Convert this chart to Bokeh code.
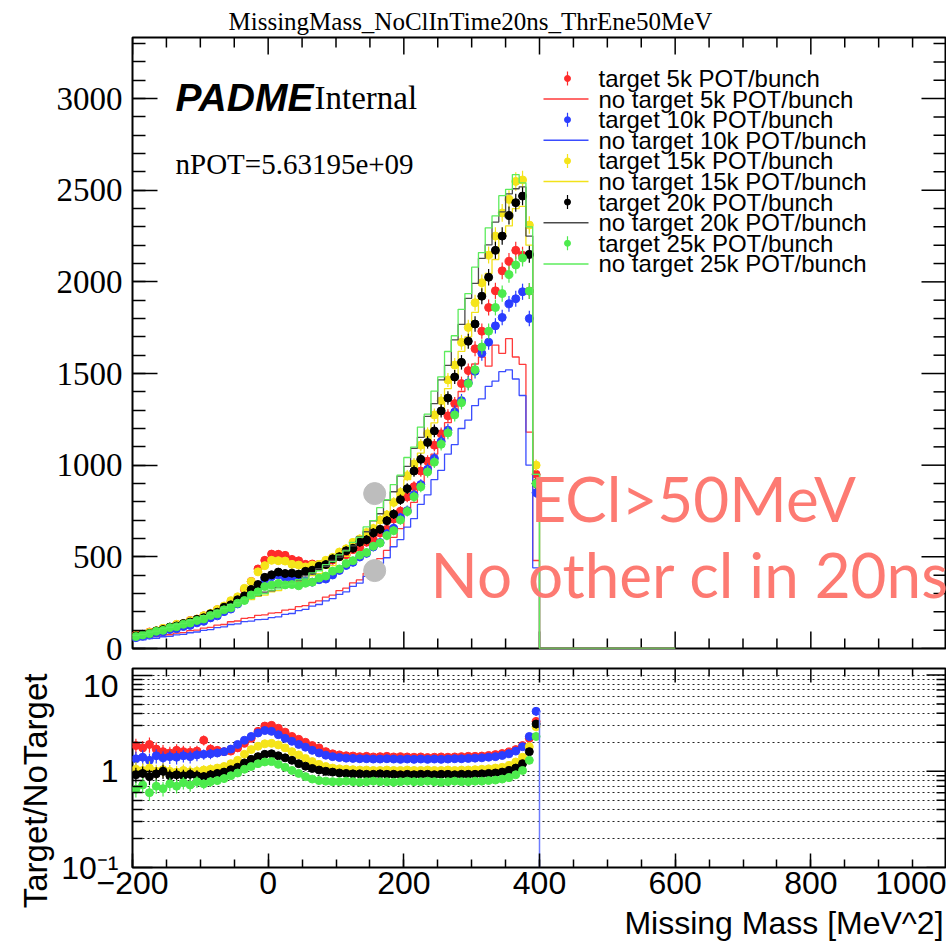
import numpy as np
from bokeh.plotting import figure
from bokeh.layouts import column
from bokeh.models import (Range1d, Label, SingleIntervalTicker, FixedTicker, CustomJSTickFormatter)
from bokeh.embed import file_html
from bokeh.resources import INLINE

# ---------------- data ----------------
bin_left = list(range(-200, 400, 10))   # 60 bins of 10 MeV^2
bin_width = 10
tail_end = 600                          # no-target histograms drawn at 0 up to here

# target (points) -- counts per bin
tgt_5k = [74, 77, 90, 96, 109, 115, 131, 135, 153, 160,
          178, 190, 212, 225, 252, 272, 322, 366, 434, 481,
          515, 514, 508, 486, 478, 459, 461, 459, 473, 482,
          502, 511, 539, 551, 580, 594, 630, 650, 706, 749,
          827, 883, 968, 1022, 1109, 1171, 1269, 1336, 1445, 1516,
          1635, 1731, 1860, 1951, 2060, 2112, 2172, 2145, 1950, 950]
tgt_10k = [59, 67, 73, 86, 91, 103, 108, 120, 126, 140,
           148, 167, 178, 201, 215, 243, 265, 303, 335, 378,
           392, 401, 389, 385, 369, 368, 362, 375, 379, 401,
           426, 453, 470, 499, 519, 554, 578, 626, 656, 714,
           752, 838, 894, 978, 1037, 1129, 1191, 1290, 1352, 1449,
           1512, 1610, 1671, 1760, 1806, 1880, 1908, 1946, 1800, 850]
tgt_15k = [71, 77, 88, 97, 110, 116, 132, 137, 152, 161,
           179, 192, 213, 232, 261, 282, 328, 365, 418, 452,
           481, 479, 477, 459, 455, 445, 455, 459, 481, 497,
           526, 544, 579, 598, 633, 655, 701, 729, 797, 851,
           943, 1007, 1109, 1172, 1274, 1351, 1465, 1546, 1670, 1751,
           1886, 1995, 2146, 2250, 2376, 2450, 2548, 2556, 2310, 1000]
tgt_20k = [68, 77, 82, 96, 103, 117, 123, 136, 144, 159,
           168, 189, 198, 225, 238, 266, 287, 322, 349, 388,
           402, 417, 409, 411, 406, 421, 427, 449, 458, 489,
           501, 533, 547, 580, 593, 631, 650, 697, 733, 812,
           872, 968, 1032, 1124, 1187, 1296, 1366, 1481, 1561, 1676,
           1770, 1922, 2025, 2172, 2250, 2362, 2432, 2468, 2150, 900]
tgt_25k = [65, 74, 81, 94, 99, 114, 119, 132, 139, 153,
           161, 180, 189, 211, 222, 247, 262, 292, 309, 338,
           346, 355, 347, 349, 342, 356, 362, 384, 395, 422,
           434, 464, 479, 509, 524, 558, 575, 616, 643, 701,
           748, 828, 882, 963, 1016, 1114, 1176, 1274, 1341, 1445,
           1521, 1645, 1731, 1860, 1936, 2040, 2092, 2130, 1950, 900]

# no target (histogram lines)
nt_5k = [56, 57, 64, 65, 73, 75, 84, 87, 97, 100,
         111, 115, 127, 131, 146, 150, 164, 168, 181, 183,
         193, 196, 209, 213, 228, 234, 251, 260, 280, 291,
         316, 329, 358, 374, 410, 436, 490, 535, 606, 654,
         738, 797, 893, 957, 1060, 1125, 1232, 1294, 1402, 1458,
         1552, 1590, 1540, 1655, 1610, 1690, 1590, 1550, 1180, 480]
nt_10k = [45, 47, 54, 56, 64, 66, 74, 77, 86, 90,
          99, 103, 114, 118, 131, 134, 147, 149, 158, 159,
          168, 172, 186, 191, 207, 213, 231, 240, 260, 272,
          295, 309, 339, 357, 393, 416, 464, 495, 555, 594,
          662, 708, 786, 838, 921, 972, 1060, 1112, 1200, 1246,
          1325, 1362, 1430, 1458, 1510, 1520, 1470, 1380, 1000, 440]
nt_15k = [69, 74, 86, 93, 106, 114, 128, 135, 150, 158,
          174, 184, 203, 213, 234, 242, 261, 267, 285, 291,
          309, 316, 335, 343, 363, 373, 397, 408, 437, 452,
          484, 503, 542, 565, 612, 640, 697, 731, 800, 842,
          921, 974, 1066, 1125, 1231, 1299, 1418, 1493, 1621, 1700,
          1834, 1914, 2046, 2122, 2244, 2305, 2400, 2412, 2200, 950]
nt_20k = [71, 81, 86, 100, 106, 123, 128, 144, 150, 168,
          176, 196, 205, 228, 237, 258, 265, 283, 289, 308,
          315, 335, 343, 364, 371, 396, 406, 435, 448, 481,
          498, 538, 560, 609, 637, 697, 735, 809, 855, 940,
          993, 1092, 1152, 1266, 1336, 1465, 1544, 1684, 1768, 1910,
          1992, 2128, 2202, 2326, 2382, 2480, 2508, 2518, 2250, 950]
nt_25k = [72, 76, 89, 95, 109, 116, 131, 137, 154, 160,
          179, 187, 209, 219, 241, 250, 269, 275, 294, 299,
          318, 325, 346, 352, 375, 384, 412, 424, 457, 474,
          511, 533, 579, 606, 663, 698, 768, 812, 894, 946,
          1042, 1099, 1208, 1278, 1404, 1482, 1620, 1706, 1850, 1936,
          2080, 2160, 2295, 2360, 2470, 2505, 2585, 2540, 2300, 950]

# ratio target / no target
ratio_5k = [1.85, 1.75, 1.9, 1.7, 1.6, 1.55, 1.65, 1.6, 1.58, 1.62,
            2.1, 1.7, 1.65, 1.6, 1.62, 1.75, 1.95, 2.2, 2.6, 2.95,
            3.0, 2.8, 2.55, 2.3, 2.15, 2.0, 1.85, 1.75, 1.6, 1.52,
            1.48, 1.45, 1.44, 1.42, 1.43, 1.41, 1.42, 1.43, 1.41, 1.42,
            1.41, 1.40, 1.41, 1.39, 1.40, 1.41, 1.40, 1.41, 1.42, 1.43,
            1.43, 1.44, 1.46, 1.49, 1.53, 1.59, 1.68, 1.85, 2.2, 3.3]
ratio_10k = [1.35, 1.4, 1.3, 1.45, 1.38, 1.42, 1.4, 1.45, 1.42, 1.48,
             1.5, 1.52, 1.55, 1.6, 1.7, 1.9, 2.1, 2.3, 2.5, 2.65,
             2.6, 2.4, 2.2, 2.05, 1.9, 1.78, 1.65, 1.55, 1.47, 1.42,
             1.39, 1.37, 1.36, 1.35, 1.35, 1.34, 1.34, 1.35, 1.34, 1.33,
             1.34, 1.33, 1.34, 1.33, 1.34, 1.33, 1.34, 1.35, 1.35, 1.36,
             1.37, 1.38, 1.4, 1.42, 1.46, 1.52, 1.62, 1.8, 2.3, 4.2]
ratio_15k = [1.05, 1.02, 1.08, 1.0, 1.04, 1.0, 0.98, 1.02, 0.99, 1.0,
             1.03, 1.05, 1.08, 1.12, 1.2, 1.3, 1.5, 1.68, 1.82, 1.93,
             1.95, 1.88, 1.75, 1.6, 1.48, 1.36, 1.26, 1.18, 1.12, 1.08,
             1.06, 1.05, 1.04, 1.03, 1.03, 1.02, 1.02, 1.03, 1.02, 1.02,
             1.03, 1.02, 1.02, 1.03, 1.02, 1.02, 1.03, 1.02, 1.03, 1.03,
             1.04, 1.05, 1.06, 1.08, 1.1, 1.15, 1.25, 1.4, 1.8, 2.9]
ratio_20k = [0.92, 0.95, 0.88, 0.94, 1.0, 0.9, 0.92, 0.9, 0.93, 0.9,
             0.88, 0.92, 0.95, 0.98, 1.04, 1.1, 1.22, 1.33, 1.42, 1.5,
             1.52, 1.45, 1.38, 1.3, 1.2, 1.13, 1.07, 1.03, 1.0, 0.98,
             0.96, 0.95, 0.94, 0.94, 0.93, 0.93, 0.94, 0.93, 0.93, 0.92,
             0.93, 0.92, 0.93, 0.93, 0.92, 0.93, 0.93, 0.92, 0.93, 0.93,
             0.93, 0.94, 0.95, 0.96, 0.98, 1.02, 1.08, 1.2, 1.6, 3.1]
ratio_25k = [0.65, 0.72, 0.6, 0.7, 0.66, 0.74, 0.7, 0.76, 0.72, 0.78,
             0.74, 0.78, 0.8, 0.84, 0.9, 0.96, 1.05, 1.12, 1.2, 1.25,
             1.26, 1.18, 1.1, 1.02, 0.95, 0.88, 0.83, 0.8, 0.79, 0.78,
             0.78, 0.79, 0.78, 0.77, 0.78, 0.79, 0.78, 0.78, 0.77, 0.78,
             0.79, 0.78, 0.78, 0.79, 0.78, 0.77, 0.78, 0.79, 0.78, 0.78,
             0.79, 0.79, 0.8, 0.81, 0.83, 0.86, 0.92, 1.02, 1.3, 2.3]
ratio_err_frac = [0.18, 0.18, 0.18, 0.17, 0.17, 0.16, 0.16, 0.15, 0.15, 0.14,
                  0.12, 0.12, 0.10, 0.10, 0.08, 0.08, 0.07, 0.07, 0.06, 0.06,
                  0.06, 0.06, 0.06, 0.05, 0.05, 0.05, 0.05, 0.05, 0.05, 0.05,
                  0.05, 0.04, 0.04, 0.04, 0.04, 0.04, 0.04, 0.04, 0.04, 0.04,
                  0.04, 0.04, 0.04, 0.04, 0.04, 0.04, 0.04, 0.04, 0.04, 0.04,
                  0.04, 0.04, 0.04, 0.04, 0.04, 0.04, 0.05, 0.05, 0.06, 0.10]
edge_x = 400

config_names = ["5k", "10k", "15k", "20k", "25k"]
targets = [tgt_5k, tgt_10k, tgt_15k, tgt_20k, tgt_25k]
notargets = [nt_5k, nt_10k, nt_15k, nt_20k, nt_25k]
ratios = [ratio_5k, ratio_10k, ratio_15k, ratio_20k, ratio_25k]
pt_colors = ["#ff2b2b", "#2b3dff", "#f5e41a", "#000000", "#4deb4d"]
ln_colors = ["#ff3a3a", "#3a4cff", "#f2e21a", "#4a4a4a", "#5cec5c"]

title_text = "MissingMass_NoClInTime20ns_ThrEne50MeV"
npot_text = "nPOT=5.63195e+09"
note_lines = ["ECl>50MeV", "No other cl in 20ns"]
x_title = "Missing Mass [MeV^2]"
ratio_title = "Target/NoTarget"
annot_dot_x = [157, 157]
annot_dot_y = [845, 425]

# tick positions (axis layout)
x_major = list(range(-200, 1001, 200))
x_minor = [v for v in range(-200, 1001, 50) if v % 200 != 0]
y_major = list(range(0, 3001, 500))
y_minor = [v for v in range(0, 3301, 100) if v % 500 != 0]
log_major = [0.1, 1, 10]
log_minor = [0.2, 0.3, 0.4, 0.5, 0.6, 0.7, 0.8, 0.9, 2, 3, 4, 5, 6, 7, 8, 9]

# ---------------- geometry (page px) ----------------
W, H_TOP, H_ALL = 946, 667, 943
FL, FT, FB = 132, 37, 648          # top frame
X0, X1 = -200, 1000
Y1 = 3333
BFT, BFB = 668, 868                # bottom frame
RY0, RY1 = 0.1, 11.7
LOGSPAN = np.log10(RY1 / RY0)
NBSP = "\u00a0"


def tx(px):
    return X0 + (px - FL) * (X1 - X0) / (W - FL)


def dx(npx):
    return npx * (X1 - X0) / (W - FL)


def ty(py):
    return (FB - py) * Y1 / (FB - FT)


def dy(npx):
    return npx * Y1 / (FB - FT)


def style_axis(ax, major_in, minor_in, font, size, standoff):
    ax.axis_line_color = None
    ax.major_tick_in = major_in
    ax.major_tick_out = 0
    ax.minor_tick_in = minor_in
    ax.minor_tick_out = 0
    ax.major_tick_line_color = "black"
    ax.minor_tick_line_color = "black"
    ax.major_tick_line_width = 1.5
    ax.minor_tick_line_width = 1.5
    ax.major_label_text_font = font
    ax.major_label_text_font_size = size
    ax.major_label_text_color = "black"
    ax.major_label_standoff = standoff


# ---------------- top panel ----------------
top = figure(width=W, height=H_TOP, x_range=Range1d(X0, X1), y_range=Range1d(0, Y1),
             output_backend="svg", toolbar_location=None, x_axis_location=None,
             title=title_text,
             min_border_left=FL, min_border_right=0, min_border_top=FT,
             min_border_bottom=H_TOP - FB)
top.title.text_font = "Liberation Serif"
top.title.text_font_size = "25px"
top.title.text_font_style = "normal"
top.title.text_color = "black"
top.title.align = "left"
top.title.offset = 96
top.title.standoff = 6
top.grid.visible = False
top.outline_line_color = "black"
top.outline_line_width = 2
top.background_fill_color = "white"
top.border_fill_color = "white"
top.yaxis.ticker = SingleIntervalTicker(interval=500, num_minor_ticks=5)
style_axis(top.yaxis[0], 25, 13, "Liberation Serif", "33px", 10)

# mirror / x ticks drawn inside the frame
tk = dict(line_color="black", line_width=1.5)
top.segment(x_major, [0] * len(x_major), x_major, [dy(17)] * len(x_major), **tk)
top.segment(x_minor, [0] * len(x_minor), x_minor, [dy(10)] * len(x_minor), **tk)
top.segment(x_major, [Y1] * len(x_major), x_major, [Y1 - dy(17)] * len(x_major), **tk)
top.segment(x_minor, [Y1] * len(x_minor), x_minor, [Y1 - dy(10)] * len(x_minor), **tk)
top.segment([X1] * len(y_major), y_major, [X1 - dx(25)] * len(y_major), y_major, **tk)
top.segment([X1] * len(y_minor), y_minor, [X1 - dx(13)] * len(y_minor), y_minor, **tk)

centers = np.array(bin_left, dtype=float) + bin_width / 2
edges_x = list(bin_left) + [bin_left[-1] + bin_width, tail_end]

for i in range(5):
    t = np.array(targets[i], dtype=float)
    e = np.sqrt(t)
    top.segment(centers, t - e, centers, t + e, line_color=pt_colors[i], line_width=1.2)
    top.scatter(centers, t, size=8, fill_color=pt_colors[i], line_color=pt_colors[i])
    top.step(edges_x, list(notargets[i]) + [0, 0], mode="after",
             line_color=ln_colors[i], line_width=1.3)

top.scatter(annot_dot_x, annot_dot_y, size=22, fill_color="#bdbdbd", line_color="#bdbdbd")

# legend (hand-built, ROOT style)
row0, row_step = 78, 20.6
for k in range(10):
    i = k // 2
    py = row0 + row_step * k
    if k % 2 == 0:
        txt = "target %s POT/bunch" % config_names[i]
        top.segment([tx(567)], [ty(py - 7)], [tx(567)], [ty(py + 7)],
                    line_color=pt_colors[i], line_width=1.2)
        top.scatter([tx(567)], [ty(py)], size=6, fill_color=pt_colors[i], line_color=pt_colors[i])
    else:
        txt = "no target %s POT/bunch" % config_names[i]
        top.segment([tx(543)], [ty(py)], [tx(588)], [ty(py)],
                    line_color=ln_colors[i], line_width=1.5)
    top.add_layout(Label(x=tx(598), y=ty(py), text=txt, text_baseline="middle",
                         text_align="left", text_font="Liberation Sans",
                         text_font_size="24px", text_color="black"))

top.add_layout(Label(x=tx(175), y=ty(97), text="PADME", text_align="left",
                     text_baseline="middle", text_font="Liberation Sans",
                     text_font_style="bold italic", text_font_size="39px", text_color="black"))
top.add_layout(Label(x=tx(314), y=ty(97), text="Internal", text_align="left",
                     text_baseline="middle", text_font="Liberation Serif",
                     text_font_size="33px", text_color="black"))
top.add_layout(Label(x=tx(175), y=ty(163), text=npot_text, text_align="left",
                     text_baseline="middle", text_font="Liberation Serif",
                     text_font_size="29px", text_color="black"))
top.add_layout(Label(x=tx(530), y=ty(497), text=note_lines[0], text_align="left",
                     text_baseline="middle", text_font="Lato",
                     text_font_size="62px", text_color="#fd7a72"))
top.add_layout(Label(x=tx(430), y=ty(573), text=note_lines[1], text_align="left",
                     text_baseline="middle", text_font="Lato",
                     text_font_size="62px", text_color="#fd7a72"))

# ---------------- bottom panel (ratio) ----------------
bot = figure(width=W, height=H_ALL - H_TOP, x_range=top.x_range, y_range=Range1d(RY0, RY1),
             y_axis_type="log", output_backend="svg", toolbar_location=None,
             min_border_left=FL, min_border_right=0, min_border_top=BFT - H_TOP,
             min_border_bottom=H_ALL - BFB)
bot.outline_line_color = "black"
bot.outline_line_width = 2
bot.background_fill_color = "white"
bot.border_fill_color = "white"

bot.yaxis.ticker = FixedTicker(ticks=log_major, minor_ticks=log_minor)
bot.yaxis.formatter = CustomJSTickFormatter(
    code="if (tick < 0.5) { return '10\u207b\u00b9'; } if (tick < 5) { return '1'; } return '10';")
style_axis(bot.yaxis[0], 20, 10, "Liberation Sans", "32px", 14)
bot.xaxis.ticker = SingleIntervalTicker(interval=200, num_minor_ticks=4)
style_axis(bot.xaxis[0], 14, 8, "Liberation Sans", "32px", 4)

# ROOT puts axis titles at the END of the axis: emulate by padding with
# non-breaking spaces so the centred Bokeh axis label lands there.
xa = bot.xaxis[0]
xa.axis_label = NBSP * 55 + x_title
xa.axis_label_text_font = "Liberation Sans"
xa.axis_label_text_font_size = "32px"
xa.axis_label_text_font_style = "normal"
xa.axis_label_text_color = "black"
xa.axis_label_standoff = 8

ya = bot.yaxis[0]
ya.axis_label = ratio_title + NBSP * 5
ya.axis_label_text_font = "Liberation Sans"
ya.axis_label_text_font_size = "33px"
ya.axis_label_text_font_style = "normal"
ya.axis_label_text_color = "black"
ya.axis_label_standoff = 4

bot.xgrid.visible = False
bot.ygrid.grid_line_color = "#222222"
bot.ygrid.grid_line_dash = "2 3"
bot.ygrid.grid_line_width = 1
bot.ygrid.minor_grid_line_color = "#222222"
bot.ygrid.minor_grid_line_dash = "2 3"
bot.ygrid.minor_grid_line_width = 1


def ly(py_off, ref):
    return 10 ** (np.log10(ref) + py_off / (BFB - BFT) * LOGSPAN)


bot.segment(x_major, [RY1] * len(x_major), x_major, [ly(-14, RY1)] * len(x_major), **tk)
bot.segment(x_minor, [RY1] * len(x_minor), x_minor, [ly(-8, RY1)] * len(x_minor), **tk)
bot.segment([X1] * len(log_major), log_major, [X1 - dx(20)] * len(log_major), log_major, **tk)
bot.segment([X1] * len(log_minor), log_minor, [X1 - dx(10)] * len(log_minor), log_minor, **tk)

f = np.array(ratio_err_frac)
for i in range(5):
    r = np.array(ratios[i], dtype=float)
    bot.segment(centers, r * (1 - f), centers, r * (1 + f), line_color=pt_colors[i], line_width=1.2)
    bot.scatter(centers, r, size=8, fill_color=pt_colors[i], line_color=pt_colors[i])
bot.segment([edge_x], [RY0], [edge_x], [ratio_10k[-1]], line_color="#6d7cff", line_width=1.5)

layout = column(top, bot)
open("out.html", "w").write(file_html(layout, INLINE))
